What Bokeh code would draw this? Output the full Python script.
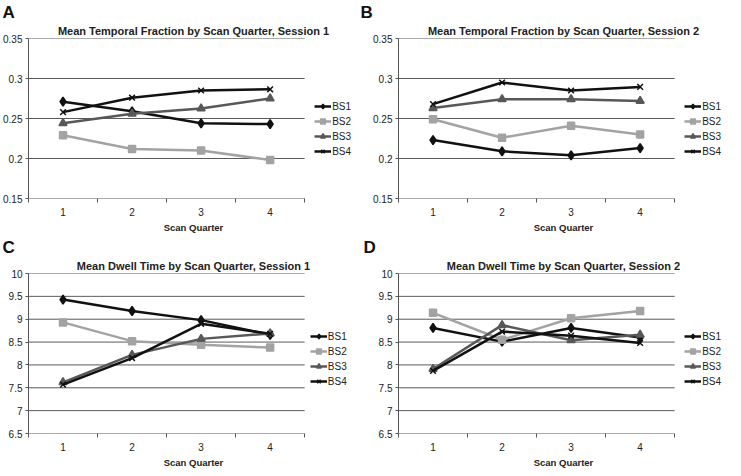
from bokeh.plotting import figure
from bokeh.models import Range1d, FixedTicker, Legend, LegendItem, Title
from bokeh.layouts import gridplot
from bokeh.embed import file_html
from bokeh.resources import INLINE

quarters = [1, 2, 3, 4]
quarter_labels = ["1", "2", "3", "4"]
series_names = ["BS1", "BS2", "BS3", "BS4"]

# Mean temporal fraction, session 1
tf_s1_bs1 = [0.271, 0.259, 0.244, 0.243]
tf_s1_bs2 = [0.229, 0.212, 0.210, 0.198]
tf_s1_bs3 = [0.244, 0.256, 0.2625, 0.275]
tf_s1_bs4 = [0.258, 0.276, 0.285, 0.2865]
# Mean temporal fraction, session 2
tf_s2_bs1 = [0.223, 0.209, 0.204, 0.213]
tf_s2_bs2 = [0.249, 0.226, 0.241, 0.230]
tf_s2_bs3 = [0.263, 0.274, 0.274, 0.272]
tf_s2_bs4 = [0.268, 0.295, 0.285, 0.2895]
# Mean dwell time, session 1
dt_s1_bs1 = [9.43, 9.18, 8.98, 8.66]
dt_s1_bs2 = [8.93, 8.52, 8.44, 8.38]
dt_s1_bs3 = [7.62, 8.22, 8.57, 8.69]
dt_s1_bs4 = [7.57, 8.15, 8.90, 8.68]
# Mean dwell time, session 2
dt_s2_bs1 = [8.81, 8.51, 8.81, 8.60]
dt_s2_bs2 = [9.14, 8.55, 9.02, 9.18]
dt_s2_bs3 = [7.91, 8.87, 8.54, 8.66]
dt_s2_bs4 = [7.87, 8.73, 8.64, 8.48]

tf_ticks = [0.15, 0.2, 0.25, 0.3, 0.35]
tf_tick_labels = ["0.15", "0.2", "0.25", "0.3", "0.35"]
dt_ticks = [6.5, 7, 7.5, 8, 8.5, 9, 9.5, 10]
dt_tick_labels = ["6.5", "7", "7.5", "8", "8.5", "9", "9.5", "10"]

FONT = "Liberation Sans"
colors = ["#111111", "#a3a3a3", "#585858", "#111111"]
markers = ["diamond", "square", "triangle", "x"]
msizes = [9, 7, 8, 8]

FW, FH = 330, 160
X_START = quarters[0] - 0.5
X_PLOT_END = quarters[-1] + 0.5
X_END = X_PLOT_END + 0.78  # extra room on the right for the legend
LEG_X = (X_PLOT_END - X_START) / (X_END - X_START) * FW + 10


def panel(letter, title, values, yticks, ylabels, mbl, leg_y, title_off, letter_off):
    p = figure(frame_width=FW, frame_height=FH, output_backend="svg",
               toolbar_location=None, title=None,
               x_range=Range1d(X_START, X_END), y_range=Range1d(yticks[0], yticks[-1]),
               min_border_left=mbl, min_border_top=0, min_border_right=2,
               min_border_bottom=0)
    p.outline_line_color = None

    p.add_layout(Title(text=title, align="center", offset=title_off, standoff=3,
                       text_font=FONT, text_font_size="11px", text_font_style="bold",
                       text_color="#222222"), "above")
    p.add_layout(Title(text=letter, align="left", offset=letter_off, standoff=0,
                       text_font=FONT, text_font_size="17px", text_font_style="bold",
                       text_color="#111111"), "above")

    p.xgrid.visible = False
    p.ygrid.visible = False
    # horizontal gridlines spanning only the plotted categories
    n = len(yticks)
    p.segment(x0=[X_START] * n, x1=[X_PLOT_END] * n, y0=yticks, y1=yticks,
              line_color="#5a5a5a", line_width=1)

    xa = p.xaxis[0]
    xa.ticker = FixedTicker(ticks=quarters,
                            minor_ticks=[q - 0.5 for q in quarters] + [X_PLOT_END])
    xa.major_label_overrides = {q: l for q, l in zip(quarters, quarter_labels)}
    xa.major_tick_out = 0
    xa.major_tick_in = 0
    xa.minor_tick_out = 4
    xa.minor_tick_in = 0
    xa.minor_tick_line_color = "#555555"
    xa.axis_line_color = None
    xa.major_label_text_font = FONT
    xa.major_label_text_font_size = "10px"
    xa.major_label_text_color = "#222222"
    xa.major_label_standoff = 5
    xa.axis_label = "Scan Quarter"
    xa.axis_label_text_font = FONT
    xa.axis_label_text_font_size = "9.5px"
    xa.axis_label_text_font_style = "bold"
    xa.axis_label_text_color = "#222222"
    xa.axis_label_standoff = 3

    ya = p.yaxis[0]
    ya.ticker = FixedTicker(ticks=yticks)
    ya.major_label_overrides = {t: l for t, l in zip(yticks, ylabels)}
    ya.major_tick_out = 3
    ya.major_tick_in = 0
    ya.minor_tick_out = 0
    ya.minor_tick_in = 0
    ya.axis_line_color = "#555555"
    ya.major_tick_line_color = "#555555"
    ya.major_label_text_font = FONT
    ya.major_label_text_font_size = "10px"
    ya.major_label_text_color = "#222222"
    ya.major_label_standoff = 3

    items = []
    for name, vals, c, m, s in zip(series_names, values, colors, markers, msizes):
        ln = p.line(quarters, vals, line_color=c, line_width=2.5)
        sc = p.scatter(quarters, vals, marker=m, size=s, fill_color=c,
                       line_color=c, line_width=1.5)
        items.append(LegendItem(label=name, renderers=[ln, sc]))
    leg = Legend(items=items, location=(LEG_X, leg_y), orientation="vertical")
    leg.label_text_font = FONT
    leg.label_text_font_size = "10px"
    leg.label_text_color = "#222222"
    leg.glyph_width = 17
    leg.glyph_height = 12
    leg.spacing = 3
    leg.padding = 0
    leg.margin = 0
    leg.label_standoff = 1
    leg.border_line_color = None
    leg.background_fill_alpha = 0
    p.add_layout(leg)
    return p


pa = panel("A", "Mean Temporal Fraction by Scan Quarter, Session 1",
           [tf_s1_bs1, tf_s1_bs2, tf_s1_bs3, tf_s1_bs4], tf_ticks, tf_tick_labels,
           20, 41, -26, -26)
pb = panel("B", "Mean Temporal Fraction by Scan Quarter, Session 2",
           [tf_s2_bs1, tf_s2_bs2, tf_s2_bs3, tf_s2_bs4], tf_ticks, tf_tick_labels,
           38, 41, -7, -38)
pc = panel("C", "Mean Dwell Time by Scan Quarter, Session 1",
           [dt_s1_bs1, dt_s1_bs2, dt_s1_bs3, dt_s1_bs4], dt_ticks, dt_tick_labels,
           20, 46, -28, -26)
pd = panel("D", "Mean Dwell Time by Scan Quarter, Session 2",
           [dt_s2_bs1, dt_s2_bs2, dt_s2_bs3, dt_s2_bs4], dt_ticks, dt_tick_labels,
           38, 46, -6, -35)

grid = gridplot([[pa, pb], [pc, pd]], toolbar_location=None)

open("out.html", "w").write(file_html(grid, INLINE))
